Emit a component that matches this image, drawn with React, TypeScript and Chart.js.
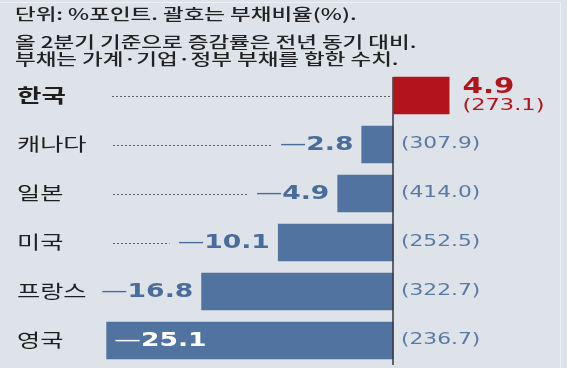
import { useEffect, useRef } from 'react';
import { Chart, registerables } from 'chart.js';

Chart.register(...registerables);

const countries = ['한국', '캐나다', '일본', '미국', '프랑스', '영국'];
const changes = [4.9, -2.8, -4.9, -10.1, -16.8, -25.1];
const debtRatios = [273.1, 307.9, 414.0, 252.5, 322.7, 236.7];
const headerLines = [
  '단위: %포인트. 괄호는 부채비율(%).',
  '올 2분기 기준으로 증감률은 전년 동기 대비.',
  '부채는 가계·기업·정부 부채를 합한 수치.',
];
const xMin = -26;
const xMax = 15;

const BG = '#dde3e9';
const BLUE_BAR = '#5073a0';
const RED = '#b3141c';
const BLUE_TEXT = '#4a6c9b';
const PAREN_BLUE = '#5a7aa6';
const DARK = '#1f1f1f';
const KFONT = '"Noto Sans CJK KR", "Noto Sans", sans-serif';
const NFONT = '"DejaVu Sans", "Liberation Sans", sans-serif';

function measure(ctx: CanvasRenderingContext2D, text: string, font: string, sx: number) {
  ctx.save();
  ctx.font = font;
  const w = ctx.measureText(text).width * sx;
  ctx.restore();
  return w;
}

function drawText(
  ctx: CanvasRenderingContext2D,
  text: string,
  left: number,
  y: number,
  font: string,
  color: string,
  sx: number
) {
  ctx.save();
  ctx.font = font;
  ctx.fillStyle = color;
  ctx.textBaseline = 'middle';
  ctx.textAlign = 'left';
  ctx.translate(left, y);
  ctx.scale(sx, 1);
  ctx.fillText(text, 0, 0);
  ctx.restore();
}

function dotted(ctx: CanvasRenderingContext2D, x1: number, x2: number, y: number) {
  ctx.save();
  ctx.strokeStyle = '#5f636a';
  ctx.lineWidth = 1;
  ctx.setLineDash([2, 2]);
  ctx.beginPath();
  ctx.moveTo(x1, Math.round(y) + 0.5);
  ctx.lineTo(x2, Math.round(y) + 0.5);
  ctx.stroke();
  ctx.restore();
}

const bgPlugin = {
  id: 'bgFill',
  beforeDraw(chart: any) {
    const ctx = chart.ctx as CanvasRenderingContext2D;
    ctx.save();
    ctx.fillStyle = BG;
    ctx.fillRect(0, 0, chart.width, chart.height);
    ctx.strokeStyle = '#eef1f4';
    ctx.lineWidth = 1;
    ctx.beginPath();
    ctx.moveTo(0, 2.5);
    ctx.lineTo(560, 2.5);
    ctx.moveTo(560.5, 2);
    ctx.lineTo(560.5, chart.height);
    ctx.stroke();
    ctx.restore();
  },
};

const labelPlugin = {
  id: 'barLabels',
  afterDatasetsDraw(chart: any) {
    const ctx = chart.ctx as CanvasRenderingContext2D;
    const meta = chart.getDatasetMeta(0);
    const xs = chart.scales.x;
    const zeroX = Math.round(xs.getPixelForValue(0));
    const area = chart.chartArea;

    // zero line
    ctx.save();
    ctx.strokeStyle = '#34373c';
    ctx.lineWidth = 1.5;
    ctx.beginPath();
    ctx.moveTo(zeroX, area.top + 6);
    ctx.lineTo(zeroX, area.bottom);
    ctx.stroke();
    ctx.restore();

    const numSx = 1.33;
    const dotStart = 113;

    meta.data.forEach((bar: any, i: number) => {
      const y = bar.y;
      const v = changes[i];
      // category label
      drawText(
        ctx,
        countries[i],
        17,
        y,
        i === 0 ? `bold 19px ${KFONT}` : `18px ${KFONT}`,
        DARK,
        1.4
      );

      if (v >= 0) {
        dotted(ctx, dotStart - 1, zeroX - 1, y);
        const left = bar.x + 13;
        drawText(ctx, v.toFixed(1), left, y - 8, `bold 21px ${NFONT}`, RED, 1.4);
        drawText(ctx, `(${debtRatios[i].toFixed(1)})`, left, y + 11, `15px ${NFONT}`, RED, 1.5);
      } else {
        const dashFont = `20px ${NFONT}`;
        const numFont = `bold 20px ${NFONT}`;
        const numText = Math.abs(v).toFixed(1);
        const dashW = measure(ctx, '—', dashFont, numSx);
        const numW = measure(ctx, numText, numFont, numSx);
        const total = dashW + numW;
        const barLeft = bar.x;
        let left = barLeft - 8 - total;
        let color = BLUE_TEXT;
        if (left < 60) {
          left = barLeft + 8;
          color = '#ffffff';
        } else if (left - 8 > dotStart + 6) {
          dotted(ctx, dotStart, left - 8, y);
        }
        drawText(ctx, '—', left, y, dashFont, color, numSx);
        drawText(ctx, numText, left + dashW, y, numFont, color, numSx);
        drawText(ctx, `(${debtRatios[i].toFixed(1)})`, zeroX + 8, y, `15px ${NFONT}`, PAREN_BLUE, 1.45);
      }
    });
  },
};

export default function App() {
  const canvasRef = useRef<HTMLCanvasElement | null>(null);

  useEffect(() => {
    const canvas = canvasRef.current;
    if (!canvas) return;
    const chart = new Chart(canvas, {
      type: 'bar',
      data: {
        labels: countries,
        datasets: [
          {
            data: changes,
            backgroundColor: changes.map((v) => (v >= 0 ? RED : BLUE_BAR)),
            borderWidth: 0,
            barPercentage: 0.77,
            categoryPercentage: 1,
          },
        ],
      },
      options: {
        indexAxis: 'y',
        responsive: false,
        animation: false,
        devicePixelRatio: 1,
        layout: { padding: { left: 96, right: 2, top: 71, bottom: 3 } },
        scales: {
          x: { min: xMin, max: xMax, display: false },
          y: { display: false },
        },
        plugins: {
          legend: { display: false },
          tooltip: { enabled: false },
          title: { display: false },
        },
      },
      plugins: [bgPlugin, labelPlugin],
    });
    return () => chart.destroy();
  }, []);

  const headerTops = [5, 33, 50];

  return (
    <div style={{ position: 'fixed', left: 0, top: 0, width: 567, height: 368, background: BG, overflow: 'hidden' }}>
      <canvas ref={canvasRef} width={567} height={368} style={{ position: 'absolute', left: 0, top: 0, width: 567, height: 368 }} />
      {headerLines.map((line, i) => (
        <div
          key={i}
          style={{
            position: 'absolute',
            left: 15,
            top: headerTops[i],
            fontFamily: KFONT,
            fontSize: 15.5,
            fontWeight: 500,
            lineHeight: '16px',
            color: '#222',
            whiteSpace: 'nowrap',
            transform: 'scaleX(1.45)',
            transformOrigin: 'left top',
          }}
        >
          {line}
        </div>
      ))}
    </div>
  );
}
